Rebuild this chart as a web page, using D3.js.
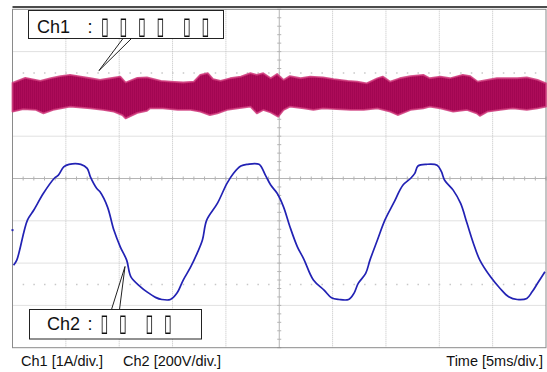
<!DOCTYPE html>
<html>
<head>
<meta charset="utf-8">
<script src="https://cdn.jsdelivr.net/npm/d3@7"></script>
<style>
  html, body { margin: 0; padding: 0; background: #fff; }
  svg { display: block; font-family: "Liberation Sans", Arial, sans-serif; }
</style>
</head>
<body>
<svg id="scope" width="547" height="372"></svg>
<script>
// Screen grid: 10 time divisions (5 ms/div), 8 vertical divisions
const timeDivs = [0, 5, 10, 15, 20, 25, 30, 35, 40, 45, 50];   // ms
const vertDivs = [-4, -3, -2, -1, 0, 1, 2, 3, 4];               // div
const markerDivs = [2.5, -2.5];                                  // dotted marker rows

// Ch1 (1A/div) - noisy current band, upper and lower envelope [ms, div]
const ch1Upper = [
    [0, 2.26], [1.2, 2.38], [2.6, 2.31], [3.6, 2.37], [4.5, 2.42], [5.4, 2.45], [6.4, 2.41],
    [7.3, 2.37], [8.2, 2.33], [9.2, 2.37], [10.1, 2.41], [10.6, 2.27], [11.7, 2.38], [12.6, 2.39],
    [13.9, 2.31], [14.8, 2.29], [16.0, 2.27], [17.0, 2.29], [17.6, 2.45], [18.3, 2.49], [18.8, 2.35],
    [19.5, 2.31], [20.4, 2.37], [21.4, 2.41], [22.3, 2.49], [22.9, 2.45], [23.5, 2.49], [24.2, 2.37],
    [24.8, 2.47], [25.4, 2.33], [26.0, 2.42], [27.0, 2.37], [27.9, 2.41], [29.1, 2.39], [30.1, 2.35],
    [31.4, 2.31], [32.3, 2.29], [33.2, 2.25], [34.2, 2.37], [34.7, 2.41], [35.4, 2.29], [36.3, 2.37],
    [37.3, 2.42], [38.5, 2.45], [39.1, 2.37], [40.1, 2.41], [41.0, 2.37], [42.2, 2.45], [42.9, 2.42],
    [43.6, 2.29], [44.5, 2.33], [45.4, 2.37], [46.4, 2.37], [47.3, 2.37], [48.2, 2.39], [49.2, 2.33],
    [50, 2.25]
];
const ch1Lower = [
    [0, 1.58], [1.0, 1.64], [2.2, 1.62], [2.9, 1.54], [3.8, 1.62], [5.4, 1.70], [7.3, 1.66],
    [8.5, 1.62], [9.5, 1.58], [10.3, 1.50], [10.6, 1.42], [11.7, 1.55], [12.6, 1.60], [12.9, 1.66],
    [14.1, 1.66], [15.5, 1.62], [16.7, 1.62], [17.6, 1.58], [18.5, 1.50], [19.2, 1.54], [20.1, 1.62],
    [21.1, 1.66], [22.3, 1.70], [22.9, 1.54], [23.5, 1.62], [24.2, 1.56], [24.9, 1.46], [25.4, 1.62],
    [26.0, 1.70], [27.3, 1.66], [28.2, 1.62], [29.1, 1.66], [30.4, 1.64], [31.7, 1.62], [32.9, 1.62],
    [34.2, 1.66], [35.4, 1.58], [36.1, 1.50], [37.3, 1.62], [38.5, 1.66], [39.1, 1.70], [40.1, 1.66],
    [41.3, 1.58], [42.6, 1.62], [43.5, 1.54], [43.8, 1.48], [44.5, 1.58], [45.7, 1.62], [46.9, 1.66],
    [48.2, 1.62], [49.2, 1.66], [50, 1.70]
];

// Ch2 (200V/div) - voltage, zero level at -1.22 div
const ch2Zero = -1.22;
const ch2Time = [0.1, 0.4, 1.4, 2.0, 2.9, 3.9, 4.3, 4.8, 5.3, 6.4, 7.0, 7.3, 7.9, 8.2, 8.9, 9.5, 10.1, 10.7,
    11.1, 12.0, 12.6, 13.4, 14.0, 14.8, 15.4, 16.0, 16.7, 17.3, 17.8, 18.2, 19.2, 20.1, 20.7, 21.4, 22.0,
    23.1, 23.7, 24.2, 24.8, 25.4, 26.0, 26.7, 27.3, 28.2, 29.2, 29.9, 30.6, 31.5, 32.0, 32.4, 33.1, 33.5,
    34.2, 34.9, 35.7, 36.6, 37.3, 37.7, 38.0, 38.8, 39.8, 40.2, 40.5, 41.3, 42.0, 42.6, 43.2, 43.8, 44.8,
    45.7, 46.5, 47.3, 48.2, 48.7, 49.3, 49.9];
const ch2Volt = [-166, -142, 47, 95, 174, 244, 260, 299, 311, 311, 292, 252, 197, 181, 110, 0, -79, -142,
    -221, -268, -292, -318, -328, -328, -299, -236, -174, -110, -47, 47, 126, 221, 268, 303, 311,
    311, 260, 213, 174, 110, 16, -79, -137, -236, -284, -320, -328, -328, -299, -252, -205, -142,
    -47, 47, 126, 213, 244, 268, 303, 311, 307, 276, 236, 189, 126, 32, -63, -142, -221,
    -276, -315, -328, -323, -292, -244, -197];

// Labels
const ch1Label = "Ch1";
const ch2Label = "Ch2";
const ch1Glyphs = ["\u25AF", "\u25AF", "\u25AF", "\u25AF", " ", "\u25AF", "\u25AF"];
const ch2Glyphs = ["\u25AF", "\u25AF", " ", "\u25AF", "\u25AF"];
const footLeft = ["Ch1 [1A/div.]", "Ch2 [200V/div.]"];
const footRight = "Time [5ms/div.]";

let svg = d3.select("#scope");

let x = d3.scaleLinear().domain([0, 50]).range([12.5, 546]);
let y = d3.scaleLinear().domain([-4, 4]).range([347.7, 9.3]);

// Stripe pattern for the dense Ch1 trace
let defs = svg.append("defs");
let pat = defs.append("pattern")
    .attr("id", "ch1Fill")
    .attr("patternUnits", "userSpaceOnUse")
    .attr("width", 2)
    .attr("height", 10);
pat.append("rect").attr("width", 2).attr("height", 10).attr("fill", "#ad0c59");
pat.append("rect").attr("width", 1).attr("height", 10).attr("fill", "#a20652");

// Grid
let grid = svg.append("g");
grid.selectAll("line.vg")
    .data(timeDivs.filter(t => t > 0 && t < 50 && t !== 25))
    .enter()
    .append("line")
    .attr("x1", t => x(t)).attr("x2", t => x(t))
    .attr("y1", y(4)).attr("y2", y(-4))
    .style("stroke", "#c2c2c2")
    .style("stroke-dasharray", "1,1");

grid.selectAll("line.hg")
    .data(vertDivs.filter(d => d > -4 && d < 4 && d !== 0))
    .enter()
    .append("line")
    .attr("x1", x(0)).attr("x2", x(50))
    .attr("y1", d => y(d)).attr("y2", d => y(d))
    .style("stroke", "#c2c2c2")
    .style("stroke-dasharray", "1,1");

// dotted marker rows
markerDivs.forEach(m => {
    grid.append("g").selectAll("rect")
        .data(x.ticks(50).filter(t => t > 0 && t < 50))
        .enter()
        .append("rect")
        .attr("x", t => x(t) - 0.5)
        .attr("y", y(m) - 0.5)
        .attr("width", 1.5)
        .attr("height", 1.5)
        .attr("fill", "#c8c8c8");
});

// centre lines with minor ticks
grid.append("line")
    .attr("x1", x(0)).attr("x2", x(50))
    .attr("y1", y(0)).attr("y2", y(0))
    .style("stroke", "#b4b4b4");
grid.append("line")
    .attr("x1", x(25)).attr("x2", x(25))
    .attr("y1", y(4)).attr("y2", y(-4))
    .style("stroke", "#b4b4b4");
grid.selectAll("line.mx")
    .data(x.ticks(50))
    .enter()
    .append("line")
    .attr("x1", t => x(t)).attr("x2", t => x(t))
    .attr("y1", y(0) - 2).attr("y2", y(0) + 2)
    .style("stroke", "#b4b4b4");
grid.selectAll("line.my")
    .data(y.ticks(40))
    .enter()
    .append("line")
    .attr("x1", x(25) - 2).attr("x2", x(25) + 2)
    .attr("y1", d => y(d)).attr("y2", d => y(d))
    .style("stroke", "#b4b4b4");

// Frame
svg.append("rect")
    .attr("x", x(0)).attr("y", y(4))
    .attr("width", x(50) - x(0)).attr("height", y(-4) - y(4))
    .attr("fill", "none")
    .style("stroke", "#8a8a8a");
svg.append("line")
    .attr("x1", x(0)).attr("x2", x(50) + 1)
    .attr("y1", 7).attr("y2", 7)
    .style("stroke", "#111")
    .style("stroke-width", 1.5);

// Ch1 band
let band = d3.line().x(d => x(d[0])).y(d => y(d[1]));
svg.append("path")
    .attr("d", band(ch1Upper.concat(ch1Lower.slice().reverse())) + "Z")
    .attr("fill", "url(#ch1Fill)")
    .style("stroke", "#cf3a7b")
    .style("stroke-width", 1.8)
    .style("stroke-opacity", 0.85)
    .style("stroke-linejoin", "round");

// Ch2 trace
let ch2Data = ch2Time.map((t, i) => [t, ch2Zero + ch2Volt[i] / 200]);
let wave = d3.line()
    .x(d => x(d[0]))
    .y(d => y(d[1]))
    .curve(d3.curveCatmullRom);
svg.append("path")
    .attr("d", wave(ch2Data))
    .attr("fill", "none")
    .style("stroke", "#2222b4")
    .style("stroke-width", 1.7);

// Ch2 ground marker at left edge
svg.append("line")
    .attr("x1", x(0) - 1).attr("x2", x(0) + 1)
    .attr("y1", y(ch2Zero)).attr("y2", y(ch2Zero))
    .style("stroke", "#2424b2")
    .style("stroke-width", 2);

// Callout boxes
function callout(box, tip, base1, base2, label, glyphs, baseY) {
    let g = svg.append("g");
    g.append("path")
        .attr("d", `M${base1},${box.by} L${tip[0]},${tip[1]} L${base2},${box.by}`)
        .attr("fill", "#fff")
        .style("stroke", "#222")
        .style("stroke-width", 1);
    g.append("rect")
        .attr("x", box.x).attr("y", box.y)
        .attr("width", box.w).attr("height", box.h)
        .attr("fill", "#fff")
        .style("stroke", "#222")
        .style("stroke-width", 1);
    g.append("text")
        .attr("x", box.tx).attr("y", baseY)
        .style("font-size", "18px")
        .attr("fill", "#111")
        .text(label);
    g.append("text")
        .attr("x", 90).attr("y", baseY)
        .attr("text-anchor", "middle")
        .style("font-size", "18px")
        .attr("fill", "#111")
        .text(":");
    // box glyphs, grey-scaled to avoid colour fringes
    let gg = g.append("g").style("filter", "grayscale(100%)");
    let gx = box.gx;
    glyphs.forEach(ch => {
        if (ch === " ") { gx += 8; return; }
        gg.append("text")
            .attr("transform", `translate(${gx},${baseY + 1}) scale(0.6,1)`)
            .attr("text-anchor", "middle")
            .style("font-family", "DejaVu Sans")
            .style("font-size", "24px")
            .attr("fill", "#111")
            .text(ch);
        gx += 18.5;
    });
}

callout({ x: 28.5, y: 10.5, w: 195, h: 28, by: 38.5, tx: 37, gx: 105 },
    [x(8.1), y(2.55)], 123, 131.5, ch1Label, ch1Glyphs, 32.5);
callout({ x: 29.5, y: 309.5, w: 172, h: 29.5, by: 309.5, tx: 47, gx: 104.5 },
    [125, 266.5], 111.5, 119.5, ch2Label, ch2Glyphs, 330);

// Footer
svg.append("text")
    .attr("x", 21).attr("y", 366)
    .style("font-size", "14.5px")
    .attr("fill", "#111")
    .text(footLeft[0]);
svg.append("text")
    .attr("x", 123).attr("y", 366)
    .style("font-size", "14.5px")
    .attr("fill", "#111")
    .text(footLeft[1]);
svg.append("text")
    .attr("x", 543).attr("y", 366)
    .attr("text-anchor", "end")
    .style("font-size", "14.5px")
    .attr("fill", "#111")
    .text(footRight);
</script>
</body>
</html>
